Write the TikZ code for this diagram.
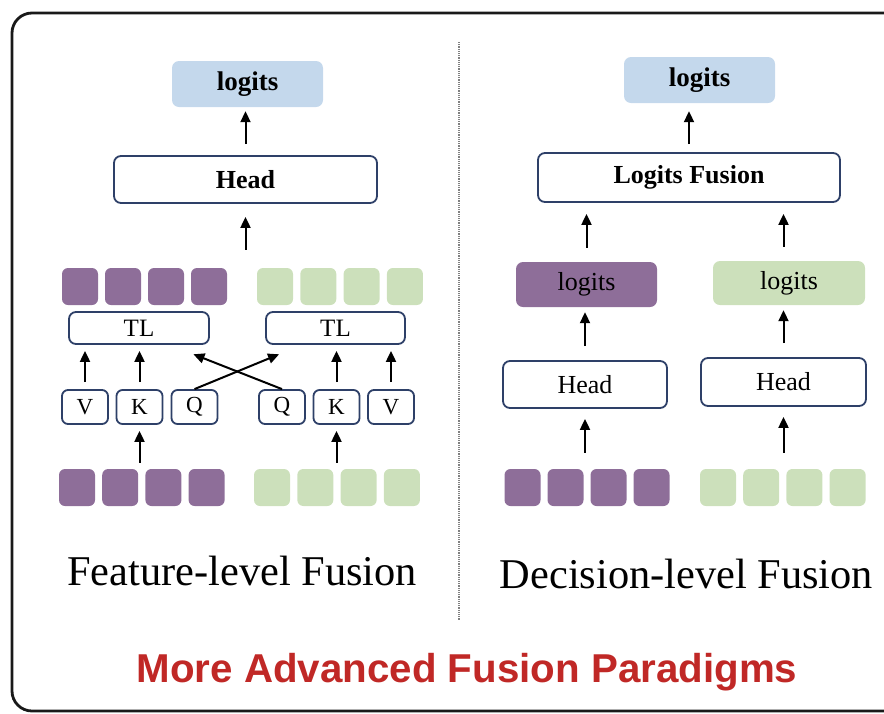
\documentclass[tikz,border=0pt]{standalone}
\usepackage{fontspec}
\setmainfont{Liberation Serif}
\newfontfamily\titlefont{Liberation Sans}
\usetikzlibrary{arrows.meta,calc}
\definecolor{tokpurple}{RGB}{142,110,153}
\definecolor{tokgreen}{RGB}{204,224,187}
\definecolor{logblue}{RGB}{196,216,236}
\definecolor{boxblue}{RGB}{46,64,104}
\definecolor{titlered}{RGB}{192,40,38}

\begin{document}
\begin{tikzpicture}[x=1pt,y=-1pt,
  tok/.style={rounded corners=6pt,minimum width=36pt,minimum height=37pt,inner sep=0pt},
  blk/.style={draw=boxblue,line width=1.8pt,fill=white,rounded corners=7pt,inner sep=0pt,
    font=\fontsize{26}{28}\selectfont},
  lgt/.style={rounded corners=7pt,inner sep=0pt,font=\fontsize{26}{28}\selectfont},
  qkv/.style={blk,rounded corners=6pt,minimum width=46pt,minimum height=34pt,
    font=\fontsize{23}{25}\selectfont},
  arr/.style={-{Triangle[width=10pt,length=11pt]},line width=2pt}]
\useasboundingbox (0,0) rectangle (884,713);
\clip (0,0) rectangle (884,713);
\draw [line width=2.8pt,black!90,rounded corners=20pt] (12,13) rectangle (904,711);

\node[lgt,fill=logblue,minimum width=151pt,minimum height=46pt,
  font=\fontsize{27}{28}\selectfont\bfseries] (logA) at (247.5,84) {logits};
\node[blk,minimum width=263pt,minimum height=47pt,font=\fontsize{26}{28}\selectfont\bfseries] (headA) at (245.5,179.5) {Head};
\foreach \i in {1,...,4} {
  \node[tok,fill=tokpurple] (pt\i) at ({80+43*(\i-1)},286.5) {};
  \node[tok,fill=tokgreen] (gt\i) at ({275+43.3*(\i-1)},286.5) {};
  \node[tok,fill=tokpurple] (pb\i) at ({77+43.2*(\i-1)},487.5) {};
  \node[tok,fill=tokgreen] (gb\i) at ({272+43.3*(\i-1)},487.5) {};
}
\node[blk,minimum width=140pt,minimum height=32pt,font=\fontsize{25}{27}\selectfont] (TLl) at (139,328) {TL};
\node[blk,minimum width=139pt,minimum height=32pt,font=\fontsize{25}{27}\selectfont] (TLr) at (335.5,328) {TL};
\node[qkv] (Vl) at (85,407) {V};
\node[qkv] (Kl) at (139.5,407) {K};
\node[qkv] (Ql) at (194.5,407) {Q};
\node[qkv] (Qr) at (282,407) {Q};
\node[qkv] (Kr) at (336.5,407) {K};
\node[qkv] (Vr) at (391,407) {V};

\draw [arr,shorten <=7pt,shorten >=6pt] (Vl.north) -- (Vl.north |- TLl.south);
\draw [arr,shorten <=7pt,shorten >=6pt] (Kl.north) -- (Kl.north |- TLl.south);
\draw [arr,shorten <=7pt,shorten >=6pt] (Kr.north) -- (Kr.north |- TLr.south);
\draw [arr,shorten <=7pt,shorten >=6pt] (Vr.north) -- (Vr.north |- TLr.south);
\draw [arr,shorten >=1pt] (Ql.north) -- ($(Qr.north |- TLr.south)+(-2,9)$);
\draw [arr,shorten >=1pt] (Qr.north) -- ($(Ql.north |- TLl.south)+(-2,9)$);
\draw [arr,shorten <=6pt,shorten >=6pt] (Kl.south |- pb2.north) -- (Kl.south);
\draw [arr,shorten <=6pt,shorten >=6pt] (Kr.south |- gb2.north) -- (Kr.south);
\draw [arr,shorten <=18pt,shorten >=13pt] (headA.south |- pt1.north) -- (headA.south);
\draw [arr,shorten <=11pt,shorten >=4pt] (headA.north) -- (headA.north |- logA.south);

\draw [gray,densely dotted,line width=1.2pt] (459,42) -- (459,620);

\node[lgt,fill=logblue,minimum width=151pt,minimum height=46pt,
  font=\fontsize{27}{28}\selectfont\bfseries] (logB) at (699.5,80) {logits};
\node[blk,minimum width=302pt,minimum height=49pt,font=\fontsize{26}{28}\selectfont\bfseries] (fusB) at (689,177.5) {Logits Fusion};
\node[lgt,fill=tokpurple,minimum width=141pt,minimum height=45pt] (lpB) at (586.5,284.5) {logits};
\node[lgt,fill=tokgreen,minimum width=152pt,minimum height=44pt] (lgB) at (789,283) {logits};
\node[blk,minimum width=164pt,minimum height=47pt] (hpB) at (585,384.5) {Head};
\node[blk,minimum width=165pt,minimum height=48pt] (hgB) at (783.5,382) {Head};
\foreach \i in {1,...,4} {
  \node[tok,fill=tokpurple] (pd\i) at ({522.5+43*(\i-1)},487.5) {};
  \node[tok,fill=tokgreen] (gd\i) at ({718+43.2*(\i-1)},487.5) {};
}
\draw [arr,shorten <=8pt,shorten >=8pt] (fusB.north) -- (fusB.north |- logB.south);
\draw [arr,shorten <=14pt,shorten >=11pt] (lpB.north) -- (lpB.north |- fusB.south);
\draw [arr,shorten <=14pt,shorten >=11pt] (hgB.north |- lgB.north) -- (hgB.north |- fusB.south);
\draw [arr,shorten <=14pt,shorten >=5pt] (hpB.north) -- (hpB.north |- lpB.south);
\draw [arr,shorten <=14pt,shorten >=5pt] (hgB.north) -- (hgB.north |- lgB.south);
\draw [arr,shorten <=16pt,shorten >=10pt] (hpB.south |- pd1.north) -- (hpB.south);
\draw [arr,shorten <=16pt,shorten >=10pt] (hgB.south |- gd1.north) -- (hgB.south);

\node[anchor=base,font=\fontsize{42.4}{44}\selectfont] (capA) at (242,585) {Feature-level Fusion};
\node[anchor=base,font=\fontsize{42.4}{44}\selectfont] (capB) at (686.5,588) {Decision-level Fusion};
\node[anchor=base,text=titlered,font=\titlefont\bfseries\fontsize{40.3}{42}\selectfont] (title) at (467,682) {More Advanced Fusion Paradigms};
\end{tikzpicture}
\end{document}
